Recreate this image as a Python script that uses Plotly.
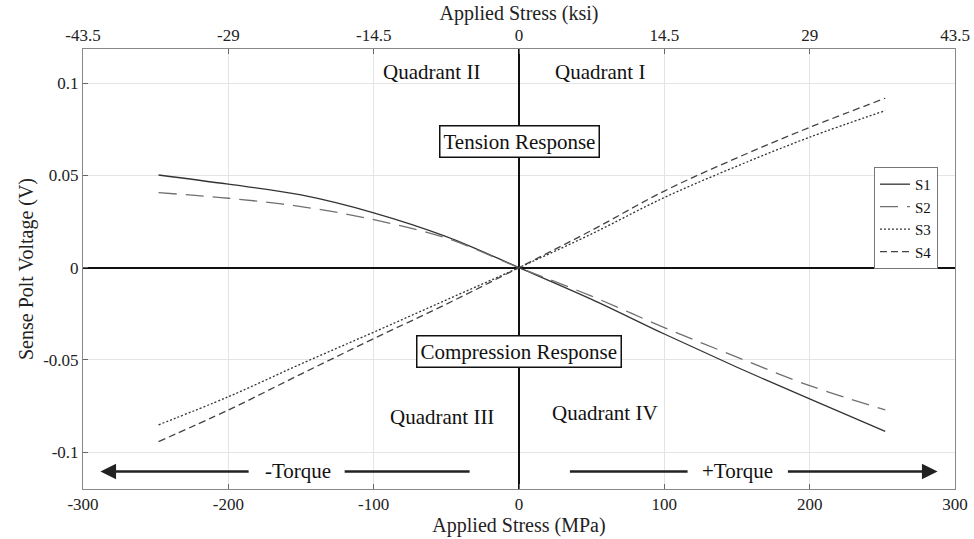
import plotly.graph_objects as go

# ---- data ----
stress_mpa = [-248, -200, -150, -100, -50, 0, 50, 100, 150, 200, 252]
s1 = [0.0502, 0.0452, 0.0394, 0.0297, 0.0168, 0, -0.0172, -0.0360, -0.0540, -0.0712, -0.0888]
s2 = [0.0406, 0.0376, 0.0331, 0.0260, 0.0160, 0, -0.0155, -0.0325, -0.0485, -0.0640, -0.0771]
s3 = [-0.0852, -0.0700, -0.0522, -0.0350, -0.0175, 0, 0.0183, 0.0380, 0.0550, 0.0707, 0.0851]
s4 = [-0.0943, -0.0772, -0.0577, -0.0385, -0.0198, 0, 0.0202, 0.0415, 0.0595, 0.0760, 0.0918]

x_ticks = [-300, -200, -100, 0, 100, 200, 300]
x_ticklabels = ["-300", "-200", "-100", "0", "100", "200", "300"]
ksi_ticklabels = ["-43.5", "-29", "-14.5", "0", "14.5", "29", "43.5"]
y_ticks = [-0.1, -0.05, 0, 0.05, 0.1]
y_ticklabels = ["-0.1", "-0.05", "0", "0.05", "0.1"]

series_names = ["S1", "S2", "S3", "S4"]
series_colors = ["#333333", "#707070", "#333333", "#444444"]
series_dash = ["solid", "18px,9px", "2px,2px", "7px,4px"]

# labels (text, x, y)
quadrant_labels = [("Quadrant II", -60, 0.1062), ("Quadrant I", 56, 0.1062),
                   ("Quadrant III", -53, -0.0807), ("Quadrant IV", 59, -0.0787)]
boxed_labels = [("Tension Response", 0.5, 0.0684), ("Compression Response", 0, -0.0452)]
torque_y = -0.1105
torque_labels = [("-Torque", -152), ("+Torque", 150)]
arrow_segments = [(-185, -288, True), (-121, -34, False), (34, 116, False), (184, 288, True)]

FONT = "Liberation Serif"
LABEL_SIZE = 21

fig = go.Figure()
for name, ys, col, dash in zip(series_names, [s1, s2, s3, s4], series_colors, series_dash):
    fig.add_trace(go.Scatter(x=stress_mpa, y=ys, mode="lines", name=name,
                             line=dict(color=col, width=1.3, dash=dash, shape="spline")))
# invisible trace to anchor the top (ksi) axis
fig.add_trace(go.Scatter(x=[x_ticks[0], x_ticks[-1]], y=[0, 0], xaxis="x2", mode="lines",
                         line=dict(width=0), showlegend=False, hoverinfo="skip"))

annotations = []
for t, x, y in quadrant_labels:
    annotations.append(dict(x=x, y=y, text=t, showarrow=False,
                            font=dict(size=LABEL_SIZE, color="#111")))
for t, x, y in boxed_labels:
    annotations.append(dict(x=x, y=y, text=t, showarrow=False,
                            font=dict(size=LABEL_SIZE, color="#111"),
                            bgcolor="white", bordercolor="#111", borderwidth=1.5, borderpad=3))
for t, x in torque_labels:
    annotations.append(dict(x=x, y=torque_y, text=t, showarrow=False,
                            font=dict(size=LABEL_SIZE, color="#111")))
for x0, x1, head in arrow_segments:
    annotations.append(dict(x=x1, y=torque_y, ax=x0, ay=torque_y, axref="x", ayref="y",
                            xref="x", yref="y", text="", showarrow=True,
                            arrowhead=2 if head else 0, arrowsize=1.2, arrowwidth=2.6,
                            arrowcolor="#222", standoff=0, startstandoff=0))

axis_common = dict(showline=True, linecolor="#888", linewidth=1, mirror=True,
                   ticks="inside", ticklen=5, tickcolor="#666", automargin=False,
                   tickfont=dict(size=17, color="#222", family=FONT))

fig.update_layout(
    width=974, height=539,
    margin=dict(l=83, r=19, t=49, b=50),
    plot_bgcolor="white", paper_bgcolor="white",
    font=dict(family=FONT, color="#222"),
    xaxis=dict(range=[-300, 300], tickvals=x_ticks, ticktext=x_ticklabels,
               showgrid=True, gridcolor="#e4e4e4", gridwidth=1,
               zeroline=True, zerolinecolor="#111", zerolinewidth=2,
               title=dict(text="Applied Stress (MPa)", font=dict(size=20, family=FONT), standoff=0),
               **axis_common),
    xaxis2=dict(range=[-300, 300], overlaying="x", side="top", tickvals=x_ticks,
                ticktext=ksi_ticklabels, showgrid=False, zeroline=False,
                title=dict(text="Applied Stress (ksi)", font=dict(size=20, family=FONT), standoff=0),
                **axis_common),
    yaxis=dict(range=[-0.12, 0.1185], tickvals=y_ticks, ticktext=y_ticklabels,
               showgrid=True, gridcolor="#e4e4e4", gridwidth=1,
               zeroline=True, zerolinecolor="#111", zerolinewidth=2,
               title=dict(text="Sense Polt Voltage (V)", font=dict(size=20, family=FONT), standoff=4),
               **axis_common),
    legend=dict(x=0.9805, y=0.732, xanchor="right", yanchor="top",
                bgcolor="white", bordercolor="#777", borderwidth=1,
                font=dict(size=15, family=FONT, color="#111"), tracegroupgap=0),
    annotations=annotations,
    showlegend=True,
)

fig.write_html("out.html")
